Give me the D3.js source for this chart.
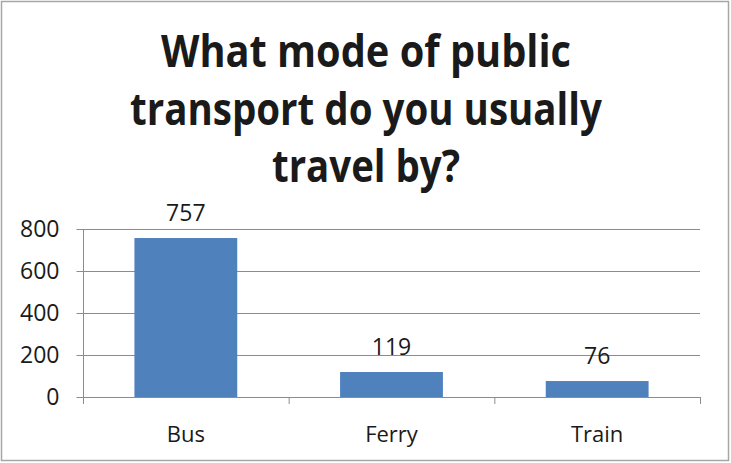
<!DOCTYPE html>
<html><head><meta charset="utf-8">
<script src="https://cdn.jsdelivr.net/npm/d3@7"></script>
<style>body{margin:0;background:#fff;} text{font-family:"Open Sans","Noto Sans",sans-serif;}</style>
</head><body><svg id="c" width="731" height="463"></svg>
<script>
const categories = ["Bus", "Ferry", "Train"];
const values = [757, 119, 76];
const yTicks = [0, 200, 400, 600, 800];
const titleLines = ["What mode of public", "transport do you usually", "travel by?"];
const titleWidths = [410, 472, 188];

const svg = d3.select("#c");
svg.append("rect").attr("x",1.5).attr("y",1.5).attr("width",727).attr("height",459)
  .attr("fill","#fff").attr("stroke","#a6a6a6").attr("stroke-width",1.5);

const m = {left:83, right:700, top:229, bottom:397};
const x = d3.scaleBand().domain(categories).range([m.left, m.right]).paddingInner(0.5).paddingOuter(0.25);
const y = d3.scaleLinear().domain([0, 800]).range([m.bottom, m.top]);

// gridlines
svg.append("g").selectAll("line").data(yTicks.filter(d=>d>0)).join("line")
  .attr("x1", m.left).attr("x2", m.right).attr("y1", d=>y(d)+0.5).attr("y2", d=>y(d)+0.5)
  .attr("stroke","#8c8c8c").attr("stroke-width",1);

// y axis
const ya = svg.append("g").attr("transform",`translate(${m.left+0.5},0)`)
  .call(d3.axisLeft(y).tickValues(yTicks).tickSize(7).tickPadding(17));
ya.select(".domain").attr("stroke","#8c8c8c").attr("d",`M0,${m.top}V${m.bottom}`);
ya.selectAll(".tick line").attr("stroke","#8c8c8c");
ya.selectAll(".tick text").attr("font-size",23).attr("fill","#1a1a1a")
  .style("font-family","'Open Sans',sans-serif");

// bars
svg.append("g").selectAll("rect").data(values).join("rect")
  .attr("x",(d,i)=>x(categories[i])).attr("width",x.bandwidth())
  .attr("y",d=>y(d)).attr("height",d=>y(0)-y(d)).attr("fill","#4f81bd");

// x axis
svg.append("line").attr("x1",m.left).attr("x2",m.right).attr("y1",m.bottom+0.5).attr("y2",m.bottom+0.5)
  .attr("stroke","#8c8c8c");
const bounds = categories.map((c,i)=>x(c) - x.step()*x.paddingInner()/2 - (i===0 ? x.step()*0 : 0));
const edges = [m.left].concat(categories.slice(1).map(c=>x(c) - x.step()*x.paddingInner()/2), [m.right]);
svg.append("g").selectAll("line").data(edges).join("line")
  .attr("x1",d=>d+0.5).attr("x2",d=>d+0.5).attr("y1",m.bottom).attr("y2",m.bottom+7)
  .attr("stroke","#8c8c8c");
svg.append("g").selectAll("text").data(categories).join("text")
  .attr("x",d=>x(d)+x.bandwidth()/2).attr("y",442).attr("text-anchor","middle")
  .attr("font-size",22).attr("fill","#1a1a1a").text(d=>d);

// value labels
svg.append("g").selectAll("text").data(values).join("text")
  .attr("x",(d,i)=>x(categories[i])+x.bandwidth()/2).attr("y",d=>y(d)-17)
  .attr("text-anchor","middle").attr("font-size",23).attr("fill","#1a1a1a").text(d=>d);

// title
svg.append("g").selectAll("text").data(titleLines).join("text")
  .attr("x",366).attr("y",(d,i)=>67+i*57.5).attr("text-anchor","middle")
  .attr("font-size",44).attr("font-weight","bold").attr("fill","#1a1a1a")
  .attr("textLength",(d,i)=>titleWidths[i]).attr("lengthAdjust","spacingAndGlyphs").text(d=>d);
</script></body></html>
